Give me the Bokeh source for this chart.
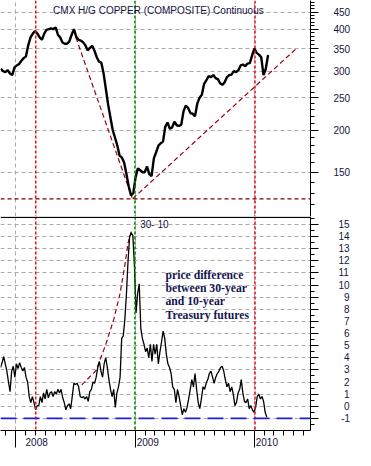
import pandas as pd
from bokeh.plotting import figure
from bokeh.models import Span, Label, FixedTicker, Range1d, NumeralTickFormatter
from bokeh.layouts import column
from bokeh.embed import file_html
from bokeh.resources import INLINE

# ---------------- data ----------------
copper_start = "2007-11-16"   # weekly closes, CMX H/G copper (cents/lb)
copper = [305, 300, 298, 302, 295, 292, 308, 312, 315, 322, 328, 332, 358, 378, 388, 395,
          388, 378, 372, 388, 398, 400, 402, 400, 405, 385, 378, 365, 362, 362, 368, 385,
          400, 380, 372, 370, 366, 358, 346, 352, 357, 345, 330, 320, 318, 295, 265, 238,
          218, 200, 190, 180, 168, 166, 160, 148, 136, 128, 130, 145, 154, 152, 150, 150,
          156, 148, 146, 165, 172, 180, 183, 185, 205, 211, 202, 204, 212, 207, 206, 208,
          228, 237, 233, 225, 224, 220, 240, 250, 255, 275, 282, 290, 288, 292, 286, 284,
          276, 273, 278, 288, 292, 293, 300, 298, 302, 312, 314, 310, 316, 317, 334, 350,
          340, 336, 330, 292, 305, 335]

spread_start, spread_end = "2007-11-15", "2010-02-08"   # 30y - 10y Treasury futures
spread = [3.2, 3.6, 4.1, 3.5, 2.9, 2.0, 1.2, 2.9, 3.3, 2.4, 3.5, 3.1, 3.6, 3.2, 2.9, 3.2,
          2.4, 2.0, 0.8, 0.3, 0.8, 0.3, -0.3, 0.05, 0.05, 0.8, 0.3, 1.1, 0.6, 1.4, 0.7, 1.1,
          1.2, 0.8, 1.2, 1.0, 1.4, 1.1, 1.4, 0.7, 0.3, -0.3, 0.05, 0.2, -0.2, 0.8, 1.9, 1.8,
          1.9, 1.6, 0.8, 0.7, 0.8, 0.6, 0.8, 0.4, 1.2, 1.4, 2.0, 1.9, 2.4, 3.2, 3.7, 2.9,
          2.4, 3.5, 4.0, 3.2, 2.2, 1.4, 0.8, 1.4, -0.1, 1.1, 1.6, 2.4, 5.6, 5.8, 7.2, 9.3,
          12.0, 14.0, 14.3, 14.1, 11.6, 7.7, 9.3, 10.1, 6.4, 5.6, 5.1, 4.5, 4.8, 4.0, 5.1, 3.7,
          5.1, 4.3, 5.1, 3.5, 4.5, 5.3, 6.2, 5.6, 4.3, 3.5, 3.2, 2.7, 1.6, 1.4, 0.3, 1.4,
          0.8, 0.05, -0.7, -0.2, -0.5, -0.1, 0.6, 1.4, 2.2, 1.6, 2.7, 1.4, 0.3, -0.2, 0.6, 1.6,
          1.4, 1.9, 2.2, 2.7, 2.9, 2.4, 1.9, 2.4, 2.7, 2.9, 3.2, 3.3, 2.9, 2.2, 1.6, 1.9,
          1.2, 1.6, 1.0, 0.05, 0.3, 1.1, 1.4, 2.2, 1.1, 0.4, 0.3, 0.6, -0.2, 0.05, -0.3, -0.5,
          -0.1, 0.8, 1.0, 0.6, 0.8, 0.4, -0.5, -0.9]

trend_down_dates = ["2008-07-03", "2008-12-22"]
trend_down_vals = [378, 126]
trend_up_dates = ["2008-12-24", "2010-05-12"]
trend_up_vals = [125, 352]
support_level = 125
curve_dates = ["2008-07-21", "2008-09-03", "2008-10-02", "2008-10-27", "2008-11-15",
               "2008-11-30", "2008-12-10", "2008-12-20"]
curve_vals = [1.76, 2.95, 5.05, 7.16, 9.26, 11.6, 13.5, 14.4]
spread_floor = -1

red_lines = ["2008-03-02", "2010-01-03"]
green_lines = ["2008-12-31"]

price_ticks = [150, 200, 250, 300, 350, 400, 450]
price_minor = list(range(120, 490, 10))
spread_ticks = list(range(-1, 16))
years = ["2008-01-01", "2009-01-01", "2010-01-01"]
year_labels = ["2008", "2009", "2010"]

# ---------------- helpers ----------------
def ms(d):
    return int(pd.Timestamp(d).value // 10**6)

price_dates = pd.date_range(copper_start, periods=len(copper), freq="7D")
spread_dates = pd.date_range(spread_start, spread_end, periods=len(spread))

NAVY = "#141440"
FONT = "Liberation Sans"
GRID = "#ababab"
x_range = Range1d(pd.Timestamp("2007-11-15"), pd.Timestamp("2010-06-22"))

common = dict(width=355, x_range=x_range, x_axis_type="datetime", y_axis_location="right",
              output_backend="svg", toolbar_location=None, min_border_left=0,
              min_border_right=45, min_border_top=0, background_fill_color="white",
              border_fill_color="white", outline_line_color=None)

# ---------------- top panel ----------------
top = figure(height=216, y_axis_type="log", y_range=Range1d(110.7, 487),
             x_axis_location=None, min_border_bottom=0, **common)
top.yaxis.ticker = FixedTicker(ticks=price_ticks, minor_ticks=price_minor)
top.yaxis.formatter = NumeralTickFormatter(format="0")
top.xgrid.ticker = FixedTicker(ticks=[ms(y) for y in years])

bot = figure(height=234, y_range=Range1d(-2.0, 15.65), min_border_bottom=19, **common)
bot.yaxis.ticker = FixedTicker(ticks=spread_ticks,
                               minor_ticks=[t + 0.5 for t in range(-2, 16)])
bot.yaxis.major_label_overrides = {
    t: (str(t) if t >= 10 else ("\u00a0" + str(t) if t < 0 else "\u00a0\u00a0" + str(t)))
    for t in spread_ticks}
month_ticks = [ms(d) for d in pd.date_range("2007-12-01", "2010-06-01", freq="MS")]
bot.xaxis.ticker = FixedTicker(ticks=[ms(y) for y in years], minor_ticks=month_ticks)
bot.xaxis.major_label_overrides = {ms(y): "\u00a0" * 9 + lab for y, lab in zip(years, year_labels)}

for p in (top, bot):
    for g in (p.xgrid, p.ygrid):
        g.grid_line_color = GRID
        g.grid_line_dash = "4 3"
        g.grid_line_width = 1
    ax = p.yaxis[0]
    ax.axis_line_color = "black"
    ax.major_tick_line_color = "black"
    ax.minor_tick_line_color = "black"
    ax.major_tick_in = 0
    ax.major_tick_out = 8
    ax.minor_tick_in = 0
    ax.minor_tick_out = 4
    ax.major_label_text_font = FONT
    ax.major_label_text_font_size = "10px"
    ax.major_label_text_color = NAVY
top.yaxis.major_label_standoff = 15
bot.yaxis.major_label_standoff = 20

xa = bot.xaxis[0]
xa.axis_line_color = "black"
xa.major_tick_in = 0
xa.major_tick_out = 17
xa.minor_tick_in = 0
xa.minor_tick_out = 5
xa.major_tick_line_color = "black"
xa.minor_tick_line_color = "black"
xa.major_label_standoff = -11
xa.major_label_text_font = FONT
xa.major_label_text_font_size = "10px"
xa.major_label_text_color = NAVY

# vertical marker lines
for p in (top, bot):
    for d in red_lines:
        p.add_layout(Span(location=ms(d), dimension="height", line_color="#e8101a",
                          line_dash="3 2", line_width=1.5))
    for d in green_lines:
        p.add_layout(Span(location=ms(d), dimension="height", line_color="#008a00",
                          line_dash="3 2", line_width=1.5))

# top content
top.add_layout(Span(location=support_level, dimension="width", line_color="#7a0000",
                    line_dash="4 3", line_width=1.2))
top.line(pd.to_datetime(trend_down_dates), trend_down_vals, line_color="#9a0010",
         line_dash="5 3", line_width=1.2)
top.line(pd.to_datetime(trend_up_dates), trend_up_vals, line_color="#9a0010",
         line_dash="5 3", line_width=1.2)
top.line(price_dates, copper, line_color="black", line_width=2.4)
top.add_layout(Label(x=52.6, y=206.4, x_units="screen", y_units="screen",
                     text="CMX H/G COPPER (COMPOSITE) Continuous", text_font=FONT,
                     text_font_size="10px", text_color=NAVY, text_baseline="middle"))

# bottom content
bot.add_layout(Span(location=spread_floor, dimension="width", line_color="#2020d0",
                    line_dash="16 7", line_width=1.6))
bot.add_layout(Span(location=15.58, dimension="width", line_color="black", line_width=1.3))
bot.line(pd.to_datetime(curve_dates), curve_vals, line_color="#9a0010",
         line_dash="5 3", line_width=1.2)
bot.line(spread_dates, spread, line_color="black", line_width=1.3)
bot.add_layout(Label(x=139.7, y=206.3, x_units="screen", y_units="screen", text="30- 10",
                     text_font=FONT, text_font_size="10px", text_color=NAVY,
                     text_baseline="middle"))
for txt, yy in zip(["price difference", "between 30-year", "and 10-year", "Treasury futures"],
                   [155.2, 142.4, 128.9, 115.0]):
    bot.add_layout(Label(x=165, y=yy, x_units="screen", y_units="screen", text=txt,
                         text_font="Liberation Serif", text_font_style="bold",
                         text_font_size="11.7px", text_color="#141452",
                         text_baseline="middle"))

layout = column(top, bot, spacing=0)
open("out.html", "w").write(file_html(layout, INLINE))
